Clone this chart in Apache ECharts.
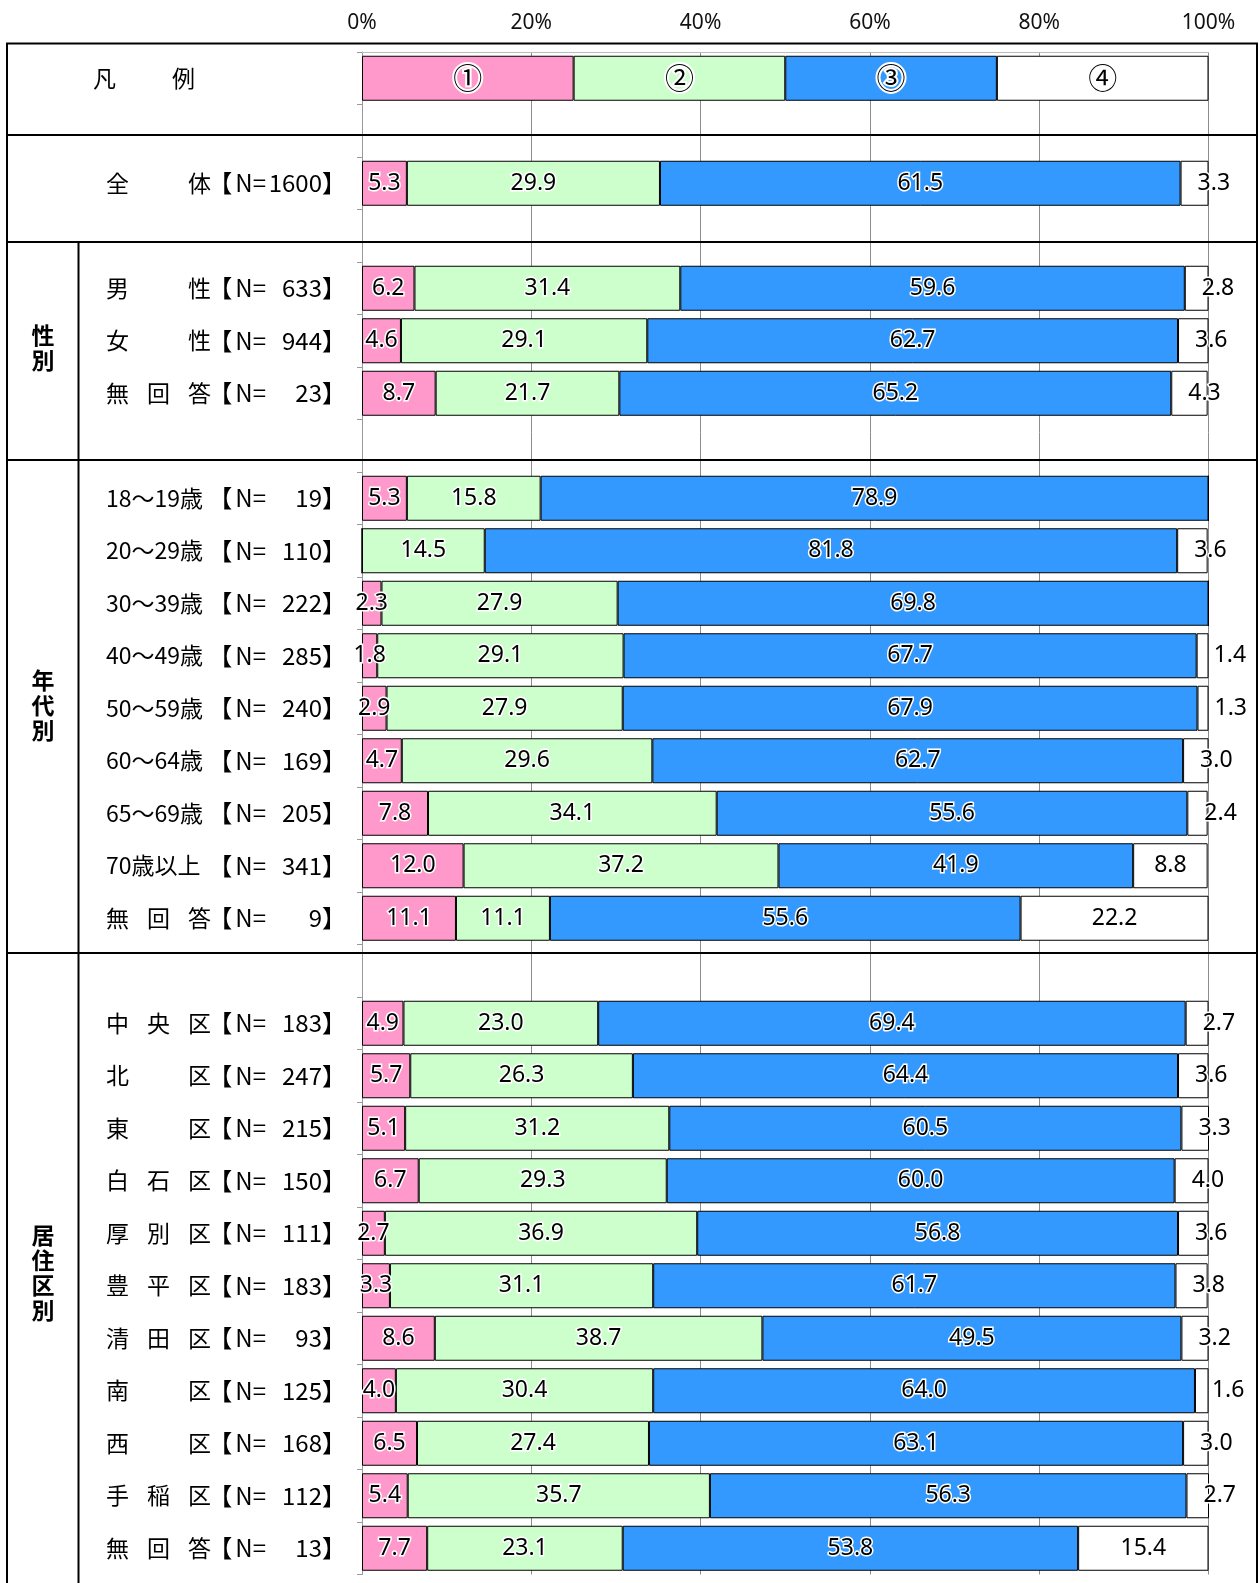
<!DOCTYPE html>
<html>
<head>
<meta charset="utf-8">
<script src="https://cdn.jsdelivr.net/npm/echarts@6/dist/echarts.min.js"></script>
<style>
  html, body { margin: 0; padding: 0; background: #fff; }
  #chart { width: 1260px; height: 1583px; }
</style>
</head>
<body>
<div id="chart"></div>
<script>
// Rows from top to bottom; '' marks a spacer row, row 0 is the colour key.
const rowNames = [
  '凡例', '',
  '全体', '',
  '男性', '女性', '無回答', '',
  '18〜19歳', '20〜29歳', '30〜39歳', '40〜49歳', '50〜59歳', '60〜64歳', '65〜69歳', '70歳以上', '無回答', '',
  '中央区', '北区', '東区', '白石区', '厚別区', '豊平区', '清田区', '南区', '西区', '手稲区', '無回答'
];
const sampleSizes = [
  null, null,
  1600, null,
  633, 944, 23, null,
  19, 110, 222, 285, 240, 169, 205, 341, 9, null,
  183, 247, 215, 150, 111, 183, 93, 125, 168, 112, 13
];

// Colour key shown in row 0
const keyMarks = ['①', '②', '③', '④'];
const keyShare = [25, 25, 25, 25];

// Shares (%) of answers ①..④ per row
const share1 = [null, null, 5.3, null, 6.2, 4.6, 8.7, null,
  5.3, 0, 2.3, 1.8, 2.9, 4.7, 7.8, 12.0, 11.1, null,
  4.9, 5.7, 5.1, 6.7, 2.7, 3.3, 8.6, 4.0, 6.5, 5.4, 7.7];
const share2 = [null, null, 29.9, null, 31.4, 29.1, 21.7, null,
  15.8, 14.5, 27.9, 29.1, 27.9, 29.6, 34.1, 37.2, 11.1, null,
  23.0, 26.3, 31.2, 29.3, 36.9, 31.1, 38.7, 30.4, 27.4, 35.7, 23.1];
const share3 = [null, null, 61.5, null, 59.6, 62.7, 65.2, null,
  78.9, 81.8, 69.8, 67.7, 67.9, 62.7, 55.6, 41.9, 55.6, null,
  69.4, 64.4, 60.5, 60.0, 56.8, 61.7, 49.5, 64.0, 63.1, 56.3, 53.8];
const share4 = [null, null, 3.3, null, 2.8, 3.6, 4.3, null,
  0, 3.6, 0, 1.4, 1.3, 3.0, 2.4, 8.8, 22.2, null,
  2.7, 3.6, 3.3, 4.0, 3.6, 3.8, 3.2, 1.6, 3.0, 2.7, 15.4];

const tickLabels = [0, 20, 40, 60, 80, 100];

const colors = ['#FF99CC', '#CCFFCC', '#3399FF', '#FFFFFF'];
const JP = '"Noto Sans CJK JP", "Noto Sans", sans-serif';
const NUM = '"Noto Sans", "Noto Sans CJK JP", sans-serif';

const chart = echarts.init(document.getElementById('chart'), null, { renderer: 'canvas' });

function nameLabel(name, idx) {
  if (!name || idx === 0) return '';
  if (/\d/.test(name)) return '{t|' + name + '}';
  const ch = Array.from(name);
  const slots = ch.length === 2 ? [ch[0], ' ', ch[1]] : ch;
  return slots.map(c => '{c|' + c + '}').join('');
}

function countLabel(_, idx) {
  const n = sampleSizes[idx];
  if (n == null) return '';
  return '{b|【}{g| }{k|N=}{v|' + n + '}{e|】}';
}

function buildSeries(values, k) {
  return {
    type: 'bar',
    name: keyMarks[k],
    stack: 'all',
    barWidth: 45,
    itemStyle: { color: colors[k], borderColor: '#000', borderWidth: 1 },
    label: {
      show: true,
      position: 'inside',
      color: '#000',
      fontSize: 23,
      fontFamily: NUM,
      textBorderColor: '#fff',
      textBorderWidth: 3,
      formatter: p => {
        if (p.dataIndex === 0) return keyMarks[k];
        return p.value ? Number(p.value).toFixed(1) : '';
      }
    },
    data: values.map((v, i) => {
      if (i === 0) {
        return { value: keyShare[k], label: { fontFamily: JP, fontSize: 29, textBorderWidth: 4 } };
      }
      if (v == null) return '-';
      // thin trailing segments carry their label just past the bar end
      if (k === 3 && v > 0 && v < 5) {
        return { value: v, label: { position: 'insideLeft', distance: 17 } };
      }
      return v;
    })
  };
}

const countText = { fontSize: 24, fontFamily: JP, color: '#000' };

const option = {
  animation: false,
  backgroundColor: '#fff',
  grid: { left: 362, right: 51.5, top: 52, bottom: 8.5, containLabel: false },
  xAxis: {
    type: 'value',
    position: 'top',
    min: tickLabels[0],
    max: tickLabels[tickLabels.length - 1],
    interval: 20,
    axisLine: { show: true, lineStyle: { color: '#bbb', width: 1 } },
    axisTick: { show: false },
    axisLabel: { formatter: '{value}%', fontSize: 21, color: '#111', margin: 18, fontFamily: NUM },
    splitLine: { show: true, lineStyle: { color: '#8c8c8c', width: 1 } }
  },
  yAxis: [
    {
      type: 'category',
      inverse: true,
      data: rowNames,
      axisLine: { show: true, lineStyle: { color: '#999', width: 1 } },
      axisTick: { show: true, length: 5, inside: false, lineStyle: { color: '#999' } },
      axisLabel: {
        interval: 0,
        align: 'left',
        margin: 256,
        formatter: nameLabel,
        rich: {
          c: { width: 41, fontSize: 23, fontFamily: JP, color: '#000' },
          t: { fontSize: 23, fontFamily: JP, color: '#000' }
        }
      }
    },
    {
      type: 'category',
      inverse: true,
      data: rowNames,
      position: 'left',
      axisLine: { show: false },
      axisTick: { show: false },
      axisLabel: {
        interval: 0,
        align: 'right',
        margin: 16,
        formatter: countLabel,
        rich: {
          b: countText,
          g: Object.assign({}, countText, { width: 3 }),
          k: countText,
          v: Object.assign({}, countText, { width: 56, align: 'right' }),
          e: Object.assign({}, countText, { align: 'right' })
        }
      }
    }
  ],
  series: [share1, share2, share3, share4].map(buildSeries)
};

chart.setOption(option);

// Table frame and section captions
const frameLine = { stroke: '#000', lineWidth: 2 };
const hLines = [43.5, 135, 242, 460, 953];
const graphics = [];
hLines.forEach(y => graphics.push({
  type: 'line', z: 50, shape: { x1: 6, y1: y, x2: 1258, y2: y }, style: frameLine
}));
graphics.push({ type: 'line', z: 50, shape: { x1: 7, y1: 43.5, x2: 7, y2: 1583 }, style: frameLine });
graphics.push({ type: 'line', z: 50, shape: { x1: 1257, y1: 43.5, x2: 1257, y2: 1583 }, style: frameLine });
graphics.push({ type: 'line', z: 50, shape: { x1: 78.5, y1: 242, x2: 78.5, y2: 1583 }, style: frameLine });

const keyRowY = chart.convertToPixel({ yAxisIndex: 0 }, 0);
graphics.push({
  type: 'text', z: 50, x: 93, y: keyRowY,
  style: { text: '凡', font: '23px ' + JP, fill: '#000', textVerticalAlign: 'middle' }
});
graphics.push({
  type: 'text', z: 50, x: 172, y: keyRowY,
  style: { text: '例', font: '23px ' + JP, fill: '#000', textVerticalAlign: 'middle' }
});

const groups = [
  { text: '性\n別', y: 348 },
  { text: '年\n代\n別', y: 705 },
  { text: '居\n住\n区\n別', y: 1273 }
];
groups.forEach(g => graphics.push({
  type: 'text', z: 50, x: 43, y: g.y,
  style: {
    text: g.text, font: 'bold 23px ' + JP, fill: '#000',
    textAlign: 'center', textVerticalAlign: 'middle', lineHeight: 25
  }
}));

chart.setOption({ graphic: graphics });
</script>
</body>
</html>
